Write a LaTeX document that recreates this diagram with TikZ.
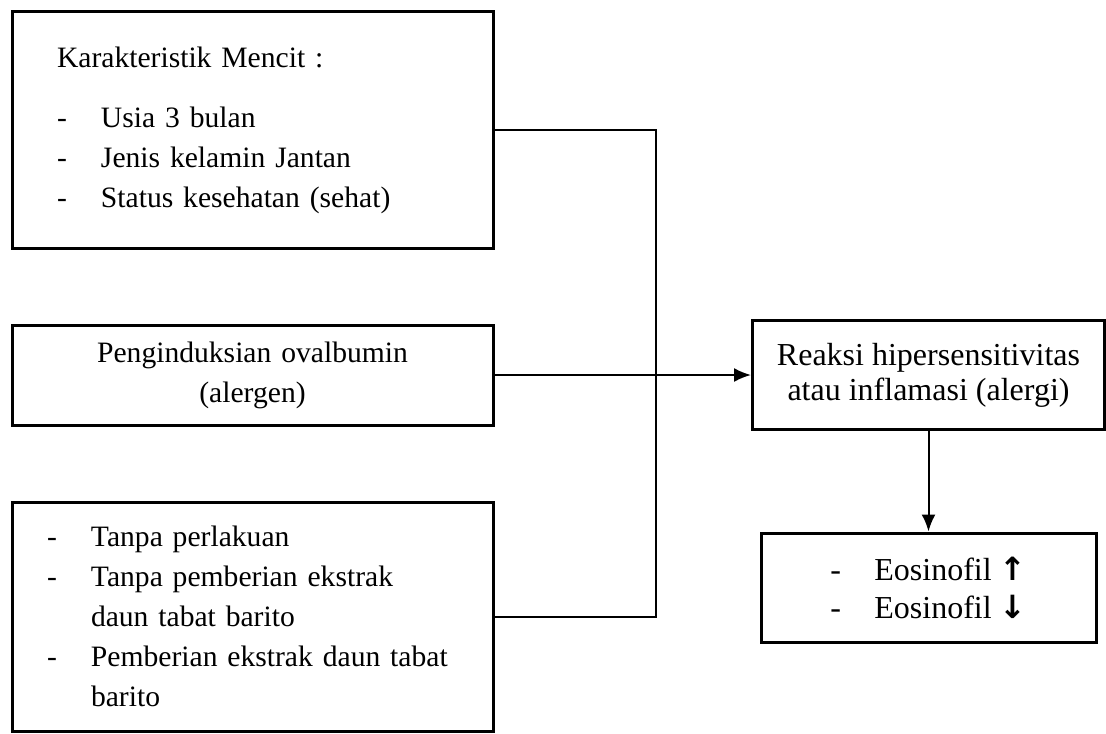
\documentclass[tikz,border=0pt]{standalone}
\usepackage{fontspec}
\setmainfont{Liberation Serif}
\newfontfamily\symfont{DejaVu Sans}
\usetikzlibrary{arrows.meta}
\tikzset{
	kotak/.style={draw, line width=1.5pt, rectangle, font=\fontsize{14.8pt}{20pt}\selectfont},
	garis/.style={line width=1pt},
	panah/.style={line width=1pt, -{Latex[length=8.5pt,width=7pt]}}
}
\newcommand{\butir}[1]{\makebox[22pt][l]{-}#1}

\begin{document}
\begin{tikzpicture}[x=0.5pt, y=-0.5pt]
		%%%%% START %%%%%
		\useasboundingbox (0,0) rectangle (1106,733);
		
		% kotak kiri
		\node[kotak, text width=195.5pt, inner xsep=22.5pt, minimum width=240.5pt, minimum height=118pt, align=left] (mencit) at (252.5,130) {Karakteristik Mencit :\\[10pt]
			\butir{Usia 3 bulan}\\
			\butir{Jenis kelamin Jantan}\\
			\butir{Status kesehatan (sehat)}};
		
		\node[kotak, text width=220pt, minimum width=240.5pt, minimum height=50pt, align=center] (ovalbumin) at (252.5,375) {Penginduksian ovalbumin\hspace*{13pt}\\(alergen)\hspace*{13pt}};
		
		\node[kotak, text width=205.5pt, inner xsep=17.5pt, minimum width=240.5pt, minimum height=114.5pt, align=left] (perlakuan) at (252.5,616.5) {\butir{Tanpa perlakuan}\\
			\butir{Tanpa pemberian ekstrak}\\
			\hspace*{22pt}daun tabat barito\\
			\butir{Pemberian ekstrak daun tabat}\\
			\hspace*{22pt}barito};
		
		% kotak kanan
		\node[kotak, font=\fontsize{16pt}{17.5pt}\selectfont, minimum width=176pt, minimum height=54.5pt, align=center] (reaksi) at (928.5,375) {Reaksi hipersensitivitas\\atau inflamasi (alergi)};
		
		\node[kotak, font=\fontsize{16pt}{19pt}\selectfont, minimum width=167.5pt, minimum height=54.5pt, align=left] (eosinofil) at (928.5,587.5) {\butir{Eosinofil {\symfont\bfseries ↑}}\\
			\butir{Eosinofil {\symfont\bfseries ↓}}};
		
		% garis penghubung
		\coordinate (temu) at (656,375);
		\draw[garis] (mencit.east) -| (temu);
		\draw[garis] (perlakuan.east) -| (temu);
		\draw[panah] (ovalbumin.east) -- (reaksi.west);
		\draw[panah] (reaksi.south) -- (eosinofil.north);
		
		%%%%% END %%%%%
	\end{tikzpicture}
\end{document}
